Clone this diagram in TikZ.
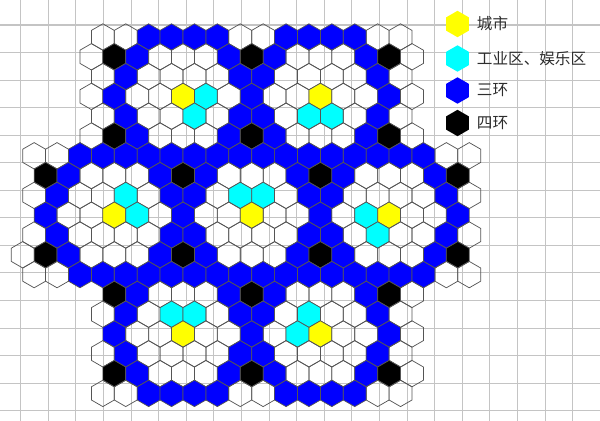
\documentclass[tikz,border=0pt]{standalone}
\usepackage{fontspec}
\newfontfamily\cjk{Noto Sans CJK SC}
\usetikzlibrary{positioning}

\definecolor{cityyellow}{RGB}{255,255,0}
\definecolor{zonecyan}{RGB}{0,255,255}
\definecolor{ringblue}{RGB}{0,0,255}
\definecolor{gridgray}{RGB}{196,196,196}
\definecolor{edgegray}{RGB}{85,85,85}
\definecolor{labelgray}{RGB}{45,45,45}

\tikzset{
  hw/.style={draw=edgegray,line width=0.55pt},
  hy/.style={hw,fill=cityyellow},
  hc/.style={hw,fill=zonecyan},
  hb/.style={hw,fill=ringblue},
  hk/.style={hw,fill=black},
  legtext/.style={inner sep=0pt,anchor=west,text=labelgray,font=\cjk\fontsize{11.7pt}{12pt}\selectfont},
}
% one pointy-top cell round a point
\newcommand{\hexat}[2]{\path[#2] #1 +(90:13.2) -- +(30:13.2) -- +(-30:13.2) -- +(-90:13.2) -- +(-150:13.2) -- +(150:13.2) -- cycle;}

\begin{document}
\begin{tikzpicture}[x=0.75pt,y=-0.75pt]
    \useasboundingbox (0,0) rectangle (600,421);

    % background grid
    \foreach \gx in {0,...,21}
      \draw[gridgray,line width=0.8pt] ({20.7+27.6*\gx},0) -- ({20.7+27.6*\gx},421);
    \foreach \gy in {0,...,14}
      \draw[gridgray,line width=0.8pt] (0,{25+27.55*\gy}) -- (600,{25+27.55*\gy});

    % cells, row by row: row / first column / colours
    \foreach \r/\q/\cells in {
      -3/-2/{w,w,b,b,b,b,w,w,b,b,b,b,w,w},
      -2/-3/{w,k,b,w,w,w,b,k,b,w,w,w,b,k,w},
      -1/-3/{w,b,w,w,w,w,b,b,w,w,w,w,b,w},
      0/-4/{w,b,w,w,y,c,w,b,w,w,y,w,w,b,w},
      1/-4/{w,b,w,w,c,w,b,b,w,c,c,w,b,w},
      2/-5/{w,k,b,w,w,w,b,k,b,w,w,w,b,k,w},
      3/-8/{w,w,b,b,b,b,b,b,b,b,b,b,b,b,b,b,b,b,w,w},
      4/-8/{k,b,w,w,w,b,k,b,w,w,w,b,k,b,w,w,w,b,k},
      5/-9/{w,b,w,w,c,w,b,b,w,c,c,w,b,b,w,w,w,w,b,w},
      6/-9/{b,w,w,y,c,w,b,w,w,y,w,w,b,w,c,y,w,w,b},
      7/-10/{w,b,w,w,w,w,b,b,w,w,w,w,b,b,w,c,w,w,b,w},
      8/-11/{w,k,b,w,w,w,b,k,b,w,w,w,b,k,b,w,w,w,b,k},
      9/-11/{w,w,b,b,b,b,b,b,b,b,b,b,b,b,b,b,b,b,w,w},
      10/-8/{k,b,w,w,w,b,k,b,w,w,w,b,k,w},
      11/-9/{w,b,w,c,c,w,b,b,w,c,w,w,b,w},
      12/-9/{b,w,w,y,w,w,b,w,c,y,w,w,b,w},
      13/-10/{w,b,w,w,w,w,b,b,w,w,w,w,b,w},
      14/-10/{k,b,w,w,w,b,k,b,w,w,w,b,k,w},
      15/-11/{w,w,b,b,b,b,w,w,b,b,b,b,w,w}}{
      \foreach \c [count=\i from 0] in \cells
        \hexat{({183+22.9*((\q+\i)+(\r)/2)},{96.4+19.8*(\r)})}{h\c};
    }

    % legend
    \coordinate (lgcity) at (457.5,24);
    \coordinate (lgzone) at (457.5,58.5);
    \coordinate (lgthree) at (457.5,90.5);
    \coordinate (lgfour) at (457.5,123);
    \hexat{(lgcity)}{fill=cityyellow}
    \hexat{(lgzone)}{fill=zonecyan}
    \hexat{(lgthree)}{fill=ringblue}
    \hexat{(lgfour)}{fill=black}
    \node[legtext,right=14.4pt of lgcity](tcity){城市};
    \node[legtext,right=14.4pt of lgzone](tzone){工业区、娱乐区};
    \node[legtext,right=14.4pt of lgthree](tthree){三环};
    \node[legtext,right=14.4pt of lgfour](tfour){四环};
\end{tikzpicture}
\end{document}
